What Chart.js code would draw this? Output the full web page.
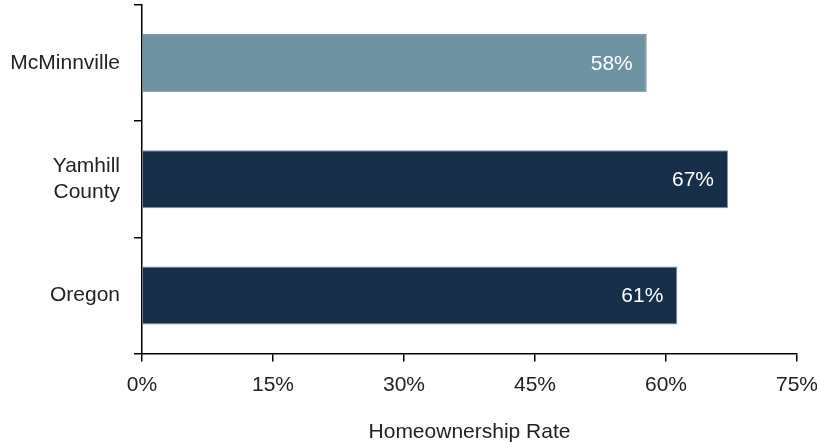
<!DOCTYPE html>
<html>
<head>
<meta charset="utf-8">
<script src="https://cdn.jsdelivr.net/npm/chart.js@4"></script>
<style>
  html, body { margin: 0; padding: 0; background: #fff; }
  #wrap { width: 817px; height: 445px; position: relative; }
</style>
</head>
<body>
<div id="wrap"><canvas id="chart"></canvas></div>
<script>
const places = ["McMinnville", ["Yamhill", "County"], "Oregon"];
const rates = [57.8, 67.1, 61.3];
const rateLabels = ["58%", "67%", "61%"];
const barColors = ["#6e93a3", "#172e48", "#172e48"];
const xTicks = [0, 15, 30, 45, 60, 75];

const FONT = "'Liberation Sans', Arial, sans-serif";

// white value text inside the end of each bar
const valueLabels = {
  id: "valueLabels",
  afterDatasetsDraw(chart) {
    const ctx = chart.ctx;
    const meta = chart.getDatasetMeta(0);
    ctx.save();
    ctx.font = "21px " + FONT;
    ctx.fillStyle = "#ffffff";
    ctx.textAlign = "right";
    ctx.textBaseline = "middle";
    meta.data.forEach((bar, i) => {
      ctx.fillText(rateLabels[i], bar.x - 14, bar.y + 1);
    });
    ctx.restore();
  }
};

new Chart(document.getElementById("chart"), {
  type: "bar",
  data: {
    labels: places,
    datasets: [{
      data: rates,
      backgroundColor: barColors,
      borderColor: "#8797aa",
      borderWidth: 1,
      borderSkipped: "left",
      categoryPercentage: 1,
      barPercentage: 0.5
    }]
  },
  options: {
    indexAxis: "y",
    responsive: true,
    maintainAspectRatio: false,
    animation: false,
    layout: { padding: { top: 5, left: 0, right: 0, bottom: 0 } },
    plugins: {
      legend: { display: false },
      tooltip: { enabled: false }
    },
    scales: {
      x: {
        type: "linear",
        min: 0,
        max: 75,
        afterBuildTicks: axis => { axis.ticks = xTicks.map(v => ({ value: v })); },
        afterFit: scale => { scale.paddingRight = 20; },
        ticks: {
          color: "#222",
          font: { family: FONT, size: 21 },
          padding: 11,
          callback: v => v + "%"
        },
        grid: {
          drawOnChartArea: false,
          drawTicks: true,
          tickLength: 8,
          color: "#000",
          lineWidth: 1.5
        },
        border: { display: true, color: "#000", width: 1.5 },
        title: {
          display: true,
          text: "Homeownership Rate",
          color: "#222",
          font: { family: FONT, size: 21 },
          padding: { top: 11, bottom: 0 }
        }
      },
      y: {
        afterFit: scale => {
          scale.paddingTop = 0;
          scale.paddingBottom = 0;
          scale.width = 142;
        },
        ticks: {
          color: "#222",
          font: { family: FONT, size: 21 },
          padding: 14
        },
        grid: {
          offset: true,
          drawOnChartArea: false,
          drawTicks: true,
          tickLength: 8,
          color: "#000",
          lineWidth: 1.5
        },
        border: { display: true, color: "#000", width: 1.5 }
      }
    }
  },
  plugins: [valueLabels]
});
</script>
</body>
</html>
